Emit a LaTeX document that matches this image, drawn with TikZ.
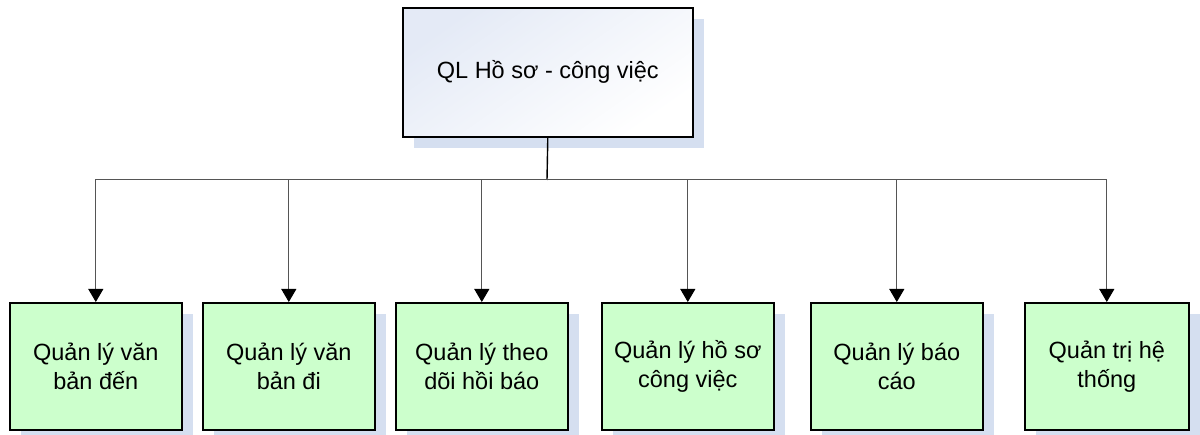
\documentclass[tikz,border=0pt]{standalone}
\usepackage{fontspec}
\setmainfont{Liberation Sans}
\usetikzlibrary{arrows.meta,shadows}
\definecolor{boxgreen}{HTML}{CCFFCC}
\definecolor{shadowblue}{HTML}{D5DFF0}
\definecolor{topshade}{HTML}{E4EAF6}
\definecolor{linegray}{HTML}{555555}
\begin{document}
\begin{tikzpicture}[x=1pt,y=-1pt,
  basebox/.style={draw=black, line width=1.6pt, inner sep=0pt, align=center,
    font=\fontsize{23.5}{29}\selectfont, anchor=north west,
    drop shadow={shadow xshift=11pt, shadow yshift=-11pt, fill=shadowblue, opacity=1}},
  leaf/.style={basebox, fill=boxgreen, minimum width=172pt, minimum height=127pt},
  rootbox/.style={basebox, top color=topshade, bottom color=white, shading angle=35,
    minimum width=290pt, minimum height=129pt},
  link/.style={draw=linegray, line width=1pt, -{Triangle[length=13pt,width=15pt,color=black]}},
  stem/.style={draw=black, line width=1.4pt}]
\useasboundingbox (0,0) rectangle (1200,435);
\node[rootbox] (root) at (402,7) {QL Hồ sơ - công việc};
\node[leaf] (b1) at (9,302) {Quản lý văn\\bản đến};
\node[leaf] (b2) at (202,302) {Quản lý văn\\bản đi};
\node[leaf] (b3) at (395,302) {Quản lý theo\\dõi hồi báo};
\node[leaf] (b4) at (601,302) {Quản lý hồ sơ\\công việc};
\node[leaf] (b5) at (810,302) {Quản lý báo\\cáo};
\node[leaf, minimum width=164pt] (b6) at (1024,302) {Quản trị hệ\\thống};
\coordinate (j) at (547,180);
\draw[stem] (root.south) -- (j);
\foreach \b in {b1,b2,b3,b4,b5,b6}
  \draw[link] (j) -| (\b.north);
\end{tikzpicture}
\end{document}
